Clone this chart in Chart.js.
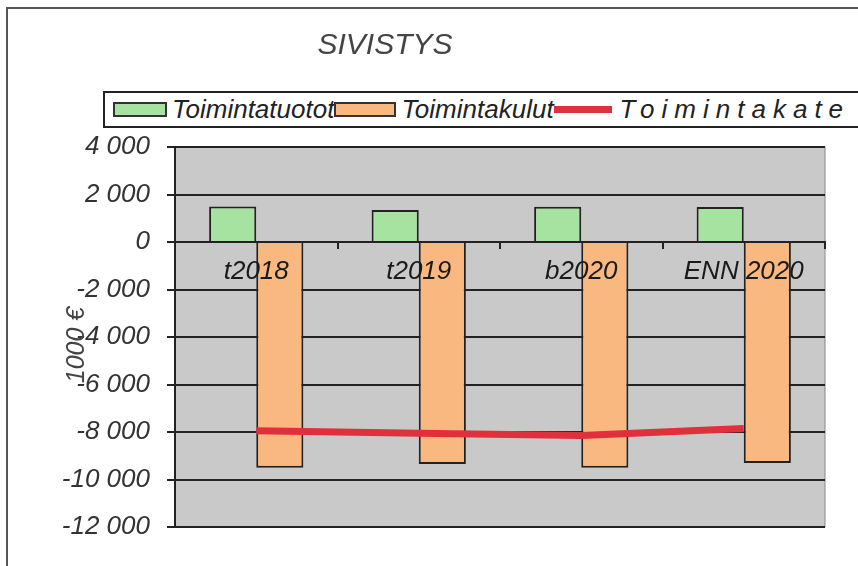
<!DOCTYPE html>
<html>
<head>
<meta charset="utf-8">
<script src="https://cdn.jsdelivr.net/npm/chart.js@4.4.0/dist/chart.umd.min.js"></script>
<style>
  body { margin: 0; background: #fff; }
  #wrap { position: relative; width: 858px; height: 566px; overflow: hidden; }
  #frame { position: absolute; left: 6px; top: 7px; width: 900px; height: 600px; border: 2px solid #555; box-sizing: border-box; }
  #legend { position: absolute; left: 103px; top: 91px; width: 800px; height: 37px; border: 2px solid #222;
            box-sizing: border-box; background: #fff; display: flex; align-items: center; padding-left: 8px;
            font: italic 26px "Liberation Sans", Arial, sans-serif; color: #222; white-space: nowrap; }
  .sw { display: inline-block; width: 50px; height: 11px; border: 2px solid #333; margin-right: 5px; }
  .ln { display: inline-block; width: 58px; height: 7px; margin-right: 8px; }
  canvas { position: absolute; left: 0; top: 0; }
</style>
</head>
<body>
<div id="wrap">
  <div id="frame"></div>
  <canvas id="grafico" width="858" height="566"></canvas>
  <div id="legend"></div>
</div>
<script>
const kategoriat = ['t2018', 't2019', 'b2020', 'ENN 2020'];
const tuotot = [1500, 1350, 1480, 1470];
const kulut = [-9500, -9350, -9500, -9300];
const kate = [-7950, -8050, -8150, -7850];
const yTicks = [4000, 2000, 0, -2000, -4000, -6000, -8000, -10000, -12000];

const vihrea = '#a7e3a0';
const oranssi = '#f9b880';
const punainen = '#e0303c';

// taustat ja tekstit jotka eivät mahdu Chart.js:n omiin paikkoihin
const tausta = {
    id: 'tausta',
    beforeDraw(chart) {
        const { ctx, chartArea: a } = chart;
        ctx.save();
        ctx.fillStyle = '#c9c9c9';
        ctx.fillRect(a.left, a.top, a.right - a.left, a.bottom - a.top);
        ctx.strokeStyle = '#888';
        ctx.lineWidth = 1;
        ctx.strokeRect(a.left, a.top, a.right - a.left, a.bottom - a.top);
        ctx.restore();
    },
    afterDraw(chart) {
        const ctx = chart.ctx;
        ctx.save();
        ctx.fillStyle = '#444';
        ctx.font = 'italic 30px "Liberation Sans", Arial, sans-serif';
        ctx.textAlign = 'center';
        ctx.textBaseline = 'middle';
        ctx.fillText('SIVISTYS', 385, 46);
        ctx.translate(77, 345);
        ctx.rotate(-Math.PI / 2);
        ctx.font = 'italic 25px "Liberation Sans", Arial, sans-serif';
        ctx.fillText('1000 €', 0, 0);
        ctx.restore();
    }
};

const grafico = new Chart(document.getElementById('grafico'), {
    type: 'bar',
    data: {
        labels: kategoriat,
        datasets: [{
            label: 'Toimintatuotot',
            data: tuotot,
            backgroundColor: vihrea,
            borderColor: '#222',
            borderWidth: 2,
            order: 1
        },
        {
            label: 'Toimintakulut',
            data: kulut,
            backgroundColor: oranssi,
            borderColor: '#222',
            borderWidth: 2,
            order: 1
        },
        {
            type: 'line',
            label: 'Toimintakate',
            data: kate,
            borderColor: punainen,
            backgroundColor: punainen,
            borderWidth: 7,
            pointRadius: 0,
            order: 0
        }]
    },
    options: {
        responsive: false,
        animation: false,
        categoryPercentage: 0.58,
        barPercentage: 1.0,
        layout: { padding: { top: 147, bottom: 39, right: 33, left: 0 } },
        plugins: { legend: { display: false }, title: { display: false }, tooltip: { enabled: false } },
        scales: {
            x: {
                position: { y: 0 },
                grid: { display: true, drawOnChartArea: false, drawTicks: true, tickLength: 6, offset: true, color: '#222', lineWidth: 2, z: 1 },
                border: { display: true, color: '#222', width: 2, z: 1 },
                ticks: { z: 1, color: '#1a1a1a', padding: 8, font: { family: 'Liberation Sans', style: 'italic', size: 26 } }
            },
            y: {
                min: -12000,
                max: 4000,
                afterBuildTicks(scale) { scale.ticks = yTicks.map(v => ({ value: v })); },
                afterFit(scale) { scale.width = 175; },
                grid: { color: '#222', lineWidth: 2, tickLength: 8 },
                border: { color: '#222', width: 2 },
                ticks: {
                    color: '#333',
                    padding: 17,
                    font: { family: 'Liberation Sans', style: 'italic', size: 26 },
                    callback: v => String(v).replace(/\B(?=(\d{3})+(?!\d))/g, ' ')
                }
            }
        }
    },
    plugins: [tausta]
});

// legenda
const legend = document.getElementById('legend');
grafico.data.datasets.forEach(function (ds, i) {
    const item = document.createElement('span');
    item.style.display = 'inline-flex';
    item.style.alignItems = 'center';
    const merkki = document.createElement('span');
    const teksti = document.createElement('span');
    teksti.textContent = ds.label;
    if (ds.type === 'line') {
        merkki.className = 'ln';
        merkki.style.background = ds.borderColor;
        teksti.style.letterSpacing = '7px';
    } else {
        merkki.className = 'sw';
        merkki.style.background = ds.backgroundColor;
        if (i > 0) merkki.style.width = '58px';
    }
    item.appendChild(merkki);
    item.appendChild(teksti);
    legend.appendChild(item);
});
</script>
</body>
</html>
